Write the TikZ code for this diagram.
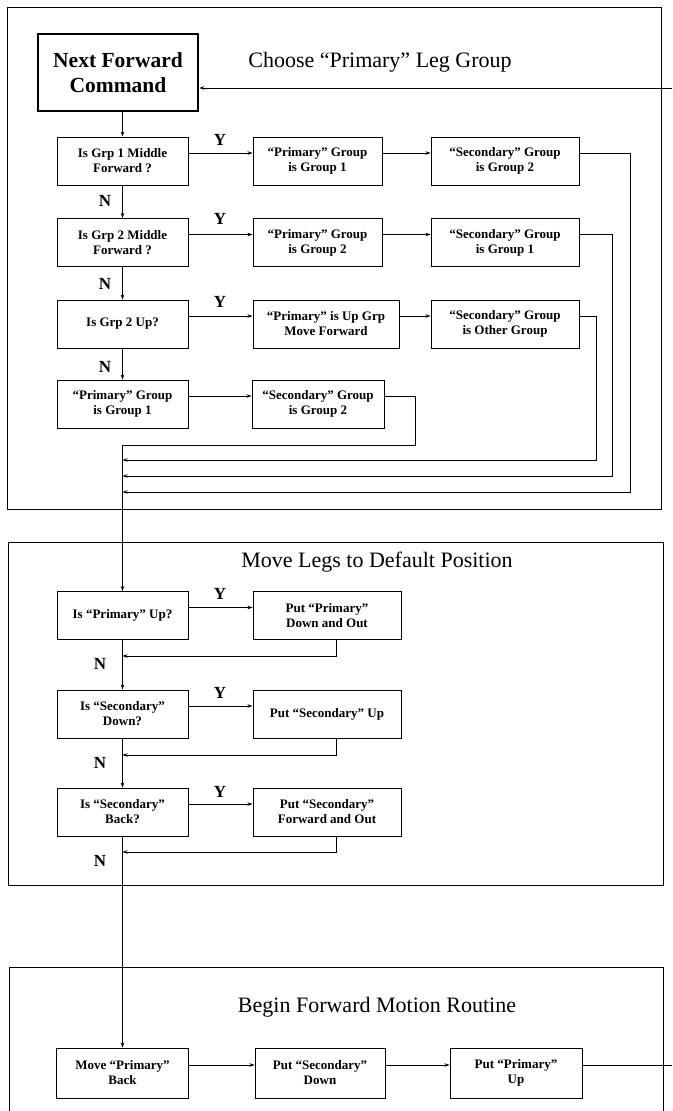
\documentclass[tikz,border=0pt]{standalone}
\usepackage{fontspec}
\setmainfont{Liberation Serif}
\usetikzlibrary{arrows.meta}

\tikzset{
	caixa/.style={draw, line width=0.9pt, minimum height=48pt, inner sep=1pt, align=center,
		font=\fontsize{13}{15}\selectfont\bfseries},
	comando/.style={draw, line width=2.6pt, minimum width=160pt, minimum height=77pt, align=center,
		font=\fontsize{21.5}{25}\selectfont\bfseries},
	seta/.style={line width=0.8pt, -{Stealth[length=5pt,width=3.5pt]}},
	linha/.style={line width=0.8pt},
	painel/.style={line width=0.9pt},
	titulo/.style={font=\fontsize{22}{26}\selectfont},
	rotulo/.style={font=\fontsize{17}{20}\selectfont\bfseries},
}

\begin{document}
\begin{tikzpicture}[x=1pt,y=-1pt]
	\useasboundingbox (0,0) rectangle (672,1111);

% paineis
	\draw[painel] (7,7) rectangle (661,509);
	\draw[painel] (8,542) rectangle (663,885);
	\draw[painel] (9,1111) -- (9,967) -- (663,967) -- (663,1111);

% escolha do grupo primario
	\node[comando] (nfc) at (118,72.5) {Next Forward\\Command};
	\node[titulo] (tit1) at (380,62) {Choose ``Primary'' Leg Group};

	\node[caixa, minimum width=131pt] (q1) at (122.5,161) {Is Grp 1 Middle\\Forward ?};
	\node[caixa, minimum width=129pt] (p1) at (317.5,161) {``Primary'' Group\\is Group 1};
	\node[caixa, minimum width=148pt] (s1) at (505,161) {``Secondary'' Group\\is Group 2};

	\node[caixa, minimum width=131pt] (q2) at (122.5,242.5) {Is Grp 2 Middle\\Forward ?};
	\node[caixa, minimum width=129pt] (p2) at (317.5,242.5) {``Primary'' Group\\is Group 2};
	\node[caixa, minimum width=148pt] (s2) at (505,242.5) {``Secondary'' Group\\is Group 1};

	\node[caixa, minimum width=131pt] (q3) at (122.5,324) {Is Grp 2 Up?};
	\node[caixa, minimum width=146pt] (p3) at (326,324) {``Primary'' is Up Grp\\Move Forward};
	\node[caixa, minimum width=148pt] (s3) at (505,324) {``Secondary'' Group\\is Other Group};

	\node[caixa, minimum width=131pt] (q4) at (122.5,404) {``Primary'' Group\\is Group 1};
	\node[caixa, minimum width=132pt] (p4) at (318,404) {``Secondary'' Group\\is Group 2};

	\foreach \yy [count=\i] in {140,219,302}
		\node[rotulo] (ya\i) at (220,\yy) {Y};
	\foreach \yy [count=\i] in {201,284,367}
		\node[rotulo] (na\i) at (105,\yy) {N};

	\coordinate (saida1) at (672,88);
	\draw[seta] (saida1) -- ([yshift=-15.5pt]nfc.east);
	\draw[seta] (q1.north |- nfc.south) -- (q1.north);
	\draw[seta] (q1) -- (q2);
	\draw[seta] (q2) -- (q3);
	\draw[seta] (q3) -- (q4);
	\foreach \a/\b in {q1/p1, p1/s1, q2/p2, p2/s2, q3/p3, p3/s3, q4/p4}
		\draw[seta] ([yshift=8pt]\a.east) -- ([yshift=8pt]\b.west);

% retornos
	\coordinate (t0) at (122.5,445);
	\coordinate (k4) at (415,445);
	\coordinate (k3) at (596,460);
	\coordinate (k2) at (612,476);
	\coordinate (k1) at (630,492);
	\coordinate (j3) at (122.5,460);
	\coordinate (j2) at (122.5,476);
	\coordinate (j1) at (122.5,492);
	\draw[linha] ([yshift=8pt]p4.east) -| (k4) -- (t0);
	\draw[seta] ([yshift=8pt]s3.east) -| (k3) -- (j3);
	\draw[seta] ([yshift=8pt]s2.east) -| (k2) -- (j2);
	\draw[seta] ([yshift=8pt]s1.east) -| (k1) -- (j1);

% pernas na posicao padrao
	\node[titulo] (tit2) at (377,562) {Move Legs to Default Position};

	\node[caixa, minimum width=131pt] (a1) at (122.5,615.5) {Is ``Primary'' Up?};
	\node[caixa, minimum width=148pt] (b1) at (327,615.5) {Put ``Primary''\\Down and Out};
	\node[caixa, minimum width=131pt] (a2) at (122.5,714) {Is ``Secondary''\\Down?};
	\node[caixa, minimum width=148pt] (b2) at (327,714) {Put ``Secondary'' Up};
	\node[caixa, minimum width=131pt] (a3) at (122.5,812) {Is ``Secondary''\\Back?};
	\node[caixa, minimum width=148pt] (b3) at (327,812) {Put ``Secondary''\\Forward and Out};

	\foreach \yy [count=\i] in {594,693,792}
		\node[rotulo] (yb\i) at (220,\yy) {Y};
	\foreach \yy [count=\i] in {664,763,861}
		\node[rotulo] (nb\i) at (100,\yy) {N};

	\draw[seta] (t0) -- (a1.north);
	\draw[seta] (a1) -- (a2);
	\draw[seta] (a2) -- (a3);
	\foreach \a/\b in {a1/b1, a2/b2, a3/b3}
		\draw[seta] ([yshift=8pt]\a.east) -- ([yshift=8pt]\b.west);

	\coordinate (m1) at (122.5,656);
	\coordinate (m2) at (122.5,755);
	\coordinate (m3) at (122.5,852);
	\foreach \b [count=\i] in {b1,b2,b3}
		\draw[seta] ([xshift=9pt]\b.south) |- (m\i);

% inicio do movimento
	\node[titulo] (tit3) at (377,1007) {Begin Forward Motion Routine};

	\node[caixa, minimum width=132pt, minimum height=50pt] (c1) at (122.5,1073) {Move ``Primary''\\Back};
	\node[caixa, minimum width=130pt, minimum height=50pt] (c2) at (320,1073) {Put ``Secondary''\\Down};
	\node[caixa, minimum width=132pt, minimum height=50pt] (c3) at (516,1073) {Put ``Primary''\\Up};

	\draw[seta] (a3.south) -- (c1.north);
	\draw[seta] ([yshift=8pt]c1.east) -- ([yshift=8pt]c2.west);
	\draw[seta] ([yshift=8pt]c2.east) -- ([yshift=8pt]c3.west);
	\coordinate (saida2) at (672,1065);
	\draw[linha] ([yshift=8pt]c3.east) -- (saida2);

\end{tikzpicture}
\end{document}
